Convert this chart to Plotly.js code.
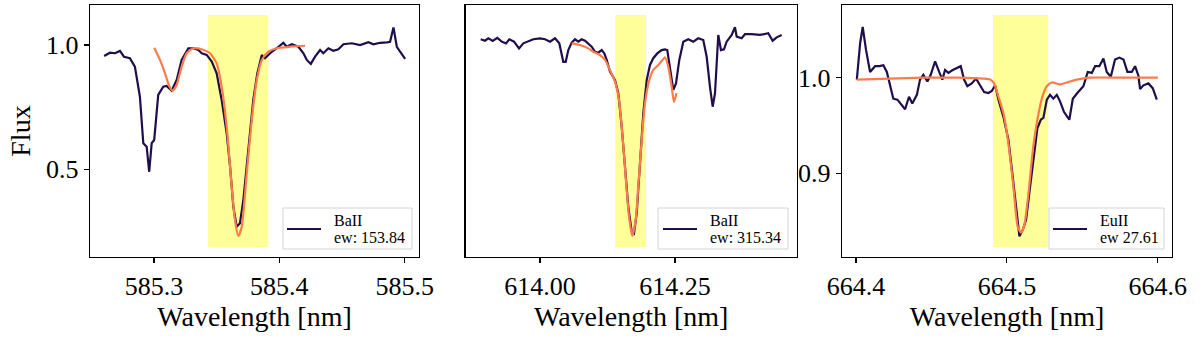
<!DOCTYPE html>
<html>
<head>
<meta charset="utf-8">
<script src="https://cdn.plot.ly/plotly-3.0.1.min.js"></script>
<style>
  html, body { margin: 0; padding: 0; background: #fff; }
  #plot { width: 1200px; height: 341px; }
</style>
</head>
<body>
<div id="plot"></div>
<script>
"use strict";

// ── Panel 1: BaII 585.37 nm ──
const baWave1 = [585.2603, 585.2649, 585.2689, 585.2729, 585.2761, 585.2808, 585.2848, 585.2888,
  585.2915, 585.2942, 585.2962, 585.2982, 585.3002, 585.3034, 585.3074, 585.3101, 585.3141,
  585.3181, 585.3221, 585.3274, 585.3314, 585.3354, 585.3381, 585.3421, 585.3461, 585.3500,
  585.3540, 585.3580, 585.3607, 585.3633, 585.3660, 585.3686, 585.3713, 585.3753, 585.3792,
  585.3824, 585.3860, 585.3886, 585.3926, 585.3979, 585.4032, 585.4059, 585.4099, 585.4152,
  585.4192, 585.4219, 585.4251, 585.4285, 585.4325, 585.4351, 585.4391, 585.4431, 585.4471,
  585.4511, 585.4578, 585.4644, 585.4710, 585.4750, 585.4804, 585.4857, 585.4883, 585.4910,
  585.4937, 585.4963, 585.5003];
const baFlux1 = [0.956, 0.969, 0.967, 0.976, 0.953, 0.947, 0.913, 0.792,
  0.605, 0.591, 0.490, 0.605, 0.618, 0.799, 0.832, 0.835, 0.816,
  0.859, 0.940, 0.987, 0.987, 0.980, 0.967, 0.960, 0.933, 0.886,
  0.779, 0.645, 0.511, 0.350, 0.269, 0.283, 0.377, 0.578, 0.779,
  0.886, 0.960, 0.947, 0.967, 0.987, 1.009, 0.993, 1.003, 0.993,
  0.967, 0.940, 0.924, 0.953, 0.980, 0.967, 0.987, 0.977, 0.983,
  1.003, 1.007, 1.000, 1.011, 1.003, 1.009, 1.011, 1.013, 1.071,
  0.993, 0.973, 0.944];
const fitWave1 = [585.3002, 585.3048, 585.3088, 585.3122, 585.3149, 585.3181, 585.3221, 585.3261,
  585.3314, 585.3381, 585.3447, 585.3500, 585.3540, 585.3580, 585.3620, 585.3646, 585.3673,
  585.3700, 585.3740, 585.3780, 585.3820, 585.3860, 585.3912, 585.3979, 585.4085, 585.4205];
const fitFlux1 = [0.989, 0.940, 0.886, 0.835, 0.816, 0.839, 0.913, 0.967,
  0.987, 0.983, 0.967, 0.926, 0.832, 0.672, 0.430, 0.296, 0.232,
  0.269, 0.484, 0.698, 0.859, 0.940, 0.973, 0.987, 0.993, 0.997];

// ── Panel 2: BaII 614.17 nm ──
const baWave2 = [613.8902, 613.8981, 613.9043, 613.9124, 613.9209, 613.9291, 613.9370, 613.9431,
  613.9519, 613.9611, 613.9691, 613.9783, 613.9876, 614.0000, 614.0093, 614.0185, 614.0278,
  614.0357, 614.0402, 614.0431, 614.0476, 614.0524, 614.0587, 614.0648, 614.0709, 614.0772,
  614.0833, 614.0894, 614.0957, 614.1019, 614.1080, 614.1143, 614.1191, 614.1235, 614.1296,
  614.1389, 614.1450, 614.1513, 614.1574, 614.1635, 614.1698, 614.1741, 614.1791, 614.1852,
  614.1913, 614.1976, 614.2037, 614.2098, 614.2172, 614.2254, 614.2315, 614.2357, 614.2407,
  614.2469, 614.2519, 614.2580, 614.2654, 614.2746, 614.2839, 614.2931, 614.3024, 614.3087,
  614.3148, 614.3198, 614.3241, 614.3302, 614.3352, 614.3407, 614.3457, 614.3550, 614.3611,
  614.3643, 614.3735, 614.3796, 614.3920, 614.4074, 614.4228, 614.4309, 614.4383, 614.4476];
const baFlux2 = [0.999, 0.993, 1.003, 0.992, 1.005, 0.989, 0.982, 0.999,
  0.989, 0.961, 0.982, 0.989, 0.999, 1.003, 0.999, 0.989, 1.003,
  0.982, 0.933, 0.905, 0.905, 0.954, 0.985, 0.999, 0.989, 0.999,
  0.993, 0.982, 0.968, 0.947, 0.943, 0.954, 0.940, 0.913, 0.864,
  0.829, 0.774, 0.635, 0.468, 0.301, 0.197, 0.190, 0.274, 0.496,
  0.690, 0.829, 0.892, 0.920, 0.940, 0.954, 0.957, 0.954, 0.885,
  0.788, 0.815, 0.913, 0.989, 0.999, 0.989, 1.003, 0.996, 0.926,
  0.801, 0.718, 0.774, 1.017, 0.954, 0.957, 0.989, 1.017, 1.049,
  1.010, 1.003, 1.020, 1.020, 1.017, 1.024, 0.993, 1.007, 1.017];
const fitWave2 = [614.0587, 614.0741, 614.0894, 614.0987, 614.1111, 614.1204, 614.1296, 614.1389,
  614.1463, 614.1524, 614.1587, 614.1648, 614.1709, 614.1772, 614.1820, 614.1883, 614.1944,
  614.2024, 614.2098, 614.2191, 614.2272, 614.2315, 614.2376, 614.2439, 614.2481, 614.2528];
const fitFlux2 = [0.982, 0.975, 0.961, 0.947, 0.933, 0.913, 0.871, 0.822,
  0.746, 0.607, 0.426, 0.260, 0.180, 0.246, 0.385, 0.579, 0.732,
  0.829, 0.871, 0.892, 0.913, 0.924, 0.885, 0.801, 0.738, 0.774];

// ── Panel 3: EuII 664.51 nm ──
const euWave = [664.4005, 664.4027, 664.4044, 664.4066, 664.4093, 664.4126, 664.4155, 664.4181,
  664.4204, 664.4225, 664.4247, 664.4274, 664.4303, 664.4325, 664.4351, 664.4373, 664.4403,
  664.4424, 664.4446, 664.4473, 664.4495, 664.4524, 664.4551, 664.4572, 664.4590, 664.4612,
  664.4641, 664.4668, 664.4694, 664.4716, 664.4738, 664.4767, 664.4796, 664.4822, 664.4849,
  664.4877, 664.4900, 664.4922, 664.4944, 664.4977, 664.5010, 664.5039, 664.5066, 664.5083,
  664.5106, 664.5127, 664.5154, 664.5180, 664.5202, 664.5225, 664.5242, 664.5265, 664.5286,
  664.5308, 664.5331, 664.5353, 664.5379, 664.5414, 664.5437, 664.5467, 664.5507, 664.5536,
  664.5563, 664.5585, 664.5613, 664.5640, 664.5662, 664.5689, 664.5717, 664.5746, 664.5773,
  664.5799, 664.5828, 664.5850, 664.5872, 664.5883, 664.5905, 664.5938, 664.5967, 664.5994];
const euFlux = [0.998, 1.036, 1.053, 1.029, 1.006, 1.012, 1.012, 1.013,
  1.006, 0.992, 0.978, 0.977, 0.971, 0.967, 0.980, 0.973, 0.982,
  0.998, 1.003, 0.996, 1.003, 1.017, 1.006, 0.998, 1.008, 1.005,
  1.008, 1.010, 1.012, 0.998, 0.991, 0.994, 0.999, 0.992, 0.985,
  0.984, 0.986, 0.992, 0.977, 0.959, 0.935, 0.896, 0.858, 0.834,
  0.841, 0.851, 0.886, 0.921, 0.947, 0.956, 0.958, 0.977, 0.982,
  0.978, 0.982, 0.975, 0.964, 0.956, 0.978, 0.984, 0.991, 1.006,
  1.005, 1.012, 1.012, 1.020, 1.006, 1.001, 1.019, 1.021, 1.019,
  1.006, 1.006, 1.012, 1.002, 0.988, 0.992, 0.994, 0.989, 0.977];
const fitWave3 = [664.4005, 664.4225, 664.4446, 664.4668, 664.4844, 664.4889, 664.4915, 664.4944,
  664.4977, 664.5010, 664.5043, 664.5072, 664.5094, 664.5116, 664.5143, 664.5172, 664.5202,
  664.5235, 664.5265, 664.5298, 664.5353, 664.5397, 664.5463, 664.5552, 664.5773, 664.6001];
const fitFlux3 = [0.998, 0.999, 1.000, 1.000, 0.999, 0.998, 0.994, 0.980,
  0.963, 0.931, 0.886, 0.844, 0.838, 0.846, 0.879, 0.924, 0.956,
  0.980, 0.991, 0.995, 0.993, 0.995, 0.998, 1.000, 1.000, 1.000];

const lineNames = ["BaII", "BaII", "EuII"];
const ewLabels = ["ew: 153.84", "ew: 315.34", "ew 27.61"];
const bands = [[585.3431, 585.3912], [614.1394, 614.1963], [664.4908, 664.5275]];

const SPEC = "#200d4c";
const FIT = "#fb7c4a";
const FONT = "Liberation Serif, DejaVu Serif, serif";
const W = 1200, H = 341;

const panels = [
  { wave: baWave1, flux: baFlux1, fw: fitWave1, ff: fitFlux1 },
  { wave: baWave2, flux: baFlux2, fw: fitWave2, ff: fitFlux2 },
  { wave: euWave, flux: euFlux, fw: fitWave3, ff: fitFlux3 },
];

const traces = [];
panels.forEach((p, i) => {
  const sfx = i === 0 ? "" : String(i + 1);
  traces.push({
    type: "scatter", mode: "lines",
    x: p.wave, y: p.flux,
    name: lineNames[i] + " " + ewLabels[i],
    showlegend: false,
    line: { color: SPEC, width: 2.2 },
    xaxis: "x" + sfx, yaxis: "y" + sfx,
    hoverinfo: "skip",
  });
  traces.push({
    type: "scatter", mode: "lines",
    x: p.fw, y: p.ff,
    showlegend: false,
    line: { color: FIT, width: 2.2, shape: "spline", smoothing: 0.6 },
    xaxis: "x" + sfx, yaxis: "y" + sfx,
    hoverinfo: "skip",
  });
});

// yellow integration windows, fixed to 4%–96% of the axes height
const shapes = bands.map((b, i) => {
  const sfx = i === 0 ? "" : String(i + 1);
  return {
    type: "rect", layer: "below",
    xref: "x" + sfx, yref: "y" + sfx + " domain",
    x0: b[0], x1: b[1], y0: 0.04, y1: 0.96,
    fillcolor: "#ffff99", line: { width: 0 },
  };
});

// matplotlib-style legend boxes (lower right of each panel), pixel layout
const legendBoxes = [
  { left: 283, right: 412, line0: 287, line1: 321, text: 332 },
  { left: 658, right: 788, line0: 663, line1: 697, text: 708 },
  { left: 1049, right: 1164, line0: 1053, line1: 1087, text: 1098 },
];
const px = v => v / W;
const py = v => 1 - v / H;
const annotations = [];
legendBoxes.forEach((lb, i) => {
  shapes.push({
    type: "rect", xref: "paper", yref: "paper",
    x0: px(lb.left), x1: px(lb.right), y0: py(249), y1: py(208),
    fillcolor: "rgba(255,255,255,0.85)", line: { color: "#d4d4d4", width: 1 },
  });
  shapes.push({
    type: "line", xref: "paper", yref: "paper",
    x0: px(lb.line0), x1: px(lb.line1), y0: py(229), y1: py(229),
    line: { color: SPEC, width: 2.2 },
  });
  annotations.push({
    xref: "paper", yref: "paper", x: px(lb.text), y: py(220),
    xanchor: "left", yanchor: "middle", showarrow: false,
    text: lineNames[i], font: { family: FONT, size: 16, color: "#000" },
  });
  annotations.push({
    xref: "paper", yref: "paper", x: px(lb.text), y: py(237),
    xanchor: "left", yanchor: "middle", showarrow: false,
    text: ewLabels[i], font: { family: FONT, size: 16, color: "#000" },
  });
});

const axisBase = {
  showline: true, mirror: true, linecolor: "#000", linewidth: 1.3,
  showgrid: false, zeroline: false,
  ticks: "outside", ticklen: 5, tickwidth: 1.2, tickcolor: "#000",
  tickfont: { family: FONT, size: 26, color: "#000" },
};
const xTitle = { text: "Wavelength [nm]", font: { family: FONT, size: 28, color: "#000" }, standoff: 4 };

const layout = {
  width: W, height: H,
  margin: { l: 0, r: 0, t: 0, b: 0 },
  paper_bgcolor: "#fff", plot_bgcolor: "#fff",
  showlegend: false,
  shapes: shapes,
  annotations: annotations,
  xaxis: Object.assign({}, axisBase, {
    domain: [0.075, 0.3492], anchor: "y", range: [585.249, 585.5114],
    tickvals: [585.3, 585.4, 585.5], ticktext: ["585.3", "585.4", "585.5"],
    title: xTitle,
  }),
  yaxis: Object.assign({}, axisBase, {
    domain: [0.2463, 0.9853], anchor: "x", range: [0.147, 1.161],
    tickvals: [0.5, 1.0], ticktext: ["0.5", "1.0"],
    title: { text: "Flux", font: { family: FONT, size: 28, color: "#000" }, standoff: 7 },
  }),
  xaxis2: Object.assign({}, axisBase, {
    domain: [0.3881, 0.6639], anchor: "y2", range: [613.8624, 614.4754],
    tickvals: [614.0, 614.25], ticktext: ["614.00", "614.25"],
    title: xTitle,
  }),
  yaxis2: Object.assign({}, axisBase, {
    domain: [0.2463, 0.9853], anchor: "x2", range: [0.0917, 1.1417],
    showticklabels: false, ticks: "",
  }),
  xaxis3: Object.assign({}, axisBase, {
    domain: [0.7017, 0.9767], anchor: "y3", range: [664.3907, 664.6095],
    tickvals: [664.4, 664.5, 664.6], ticktext: ["664.4", "664.5", "664.6"],
    title: xTitle,
  }),
  yaxis3: Object.assign({}, axisBase, {
    domain: [0.2463, 0.9853], anchor: "x3", range: [0.8124, 1.076],
    tickvals: [0.9, 1.0], ticktext: ["0.9", "1.0"],
  }),
};

Plotly.newPlot("plot", traces, layout, { displayModeBar: false, staticPlot: true });
</script>
</body>
</html>
